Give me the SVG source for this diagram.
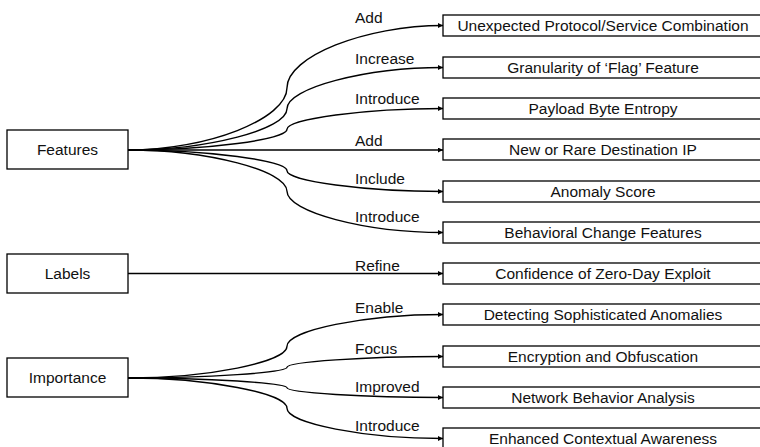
<svg xmlns="http://www.w3.org/2000/svg" width="760" height="447" viewBox="0 0 760 447">
<style>
.box{fill:#fff;stroke:#000;stroke-width:1.3}
.t{font-family:"Liberation Sans",Arial,sans-serif;font-size:15.5px;fill:#111}
.c{text-anchor:middle}
.ln{fill:none;stroke:#000;stroke-width:1.4}
</style>
<defs>
<marker id="ah" markerUnits="userSpaceOnUse" markerWidth="6" markerHeight="6" refX="5" refY="2.5" orient="auto">
<path d="M0,0 L5,2.5 L0,5 Z" fill="#000"/>
</marker>
</defs>
<rect width="760" height="447" fill="#fff"/>
<g id="connectors">
<path class="ln" marker-end="url(#ah)" d="M128,150 C207.5,150 287,118.9 287,87.8 C287,56.6 365,25.5 443,25.5"/>
<path class="ln" marker-end="url(#ah)" d="M128,150 C207.5,150 287,129.4 287,108.8 C287,88.1 365,67.5 443,67.5"/>
<path class="ln" marker-end="url(#ah)" d="M128,150 C207.5,150 287,139.6 287,129.3 C287,118.9 365,108.5 443,108.5"/>
<path class="ln" marker-end="url(#ah)" d="M128,150 L443,150"/>
<path class="ln" marker-end="url(#ah)" d="M128,150 C207.5,150 287,160.4 287,170.8 C287,181.1 365,191.5 443,191.5"/>
<path class="ln" marker-end="url(#ah)" d="M128,150 C207.5,150 287,170.6 287,191.3 C287,211.9 365,232.5 443,232.5"/>
<path class="ln" marker-end="url(#ah)" d="M128,273.5 L443,273.5"/>
<path class="ln" marker-end="url(#ah)" d="M128,378 C207.5,378 287,362.1 287,346.3 C287,330.4 365,314.5 443,314.5"/>
<path class="ln" marker-end="url(#ah)" d="M128,378 C207.5,378 287,372.6 287,367.3 C287,361.9 365,356.5 443,356.5"/>
<path class="ln" marker-end="url(#ah)" d="M128,378 C207.5,378 287,382.9 287,387.8 C287,392.6 365,397.5 443,397.5"/>
<path class="ln" marker-end="url(#ah)" d="M128,378 C207.5,378 287,393.1 287,408.3 C287,423.4 365,438.5 443,438.5"/>
<text class="t" x="355" y="23">Add</text>
<text class="t" x="355" y="64">Increase</text>
<text class="t" x="355" y="104">Introduce</text>
<text class="t" x="355" y="146">Add</text>
<text class="t" x="355" y="184">Include</text>
<text class="t" x="355" y="222">Introduce</text>
<text class="t" x="355" y="271">Refine</text>
<text class="t" x="355" y="313">Enable</text>
<text class="t" x="355" y="354">Focus</text>
<text class="t" x="355" y="392">Improved</text>
<text class="t" x="355" y="431">Introduce</text>
</g>
<g id="features"><rect class="box" x="7" y="130" width="121" height="39"/><text class="t c" x="67.5" y="155">Features</text></g>
<g id="labels"><rect class="box" x="7" y="254" width="121" height="39"/><text class="t c" x="67.5" y="279">Labels</text></g>
<g id="importance"><rect class="box" x="7" y="358" width="121" height="39"/><text class="t c" x="67.5" y="383">Importance</text></g>
<g id="n1"><rect class="box" x="443" y="15" width="330" height="21"/><text class="t c" x="603" y="31">Unexpected Protocol/Service Combination</text></g>
<g id="n2"><rect class="box" x="443" y="57" width="330" height="21"/><text class="t c" x="603" y="73">Granularity of ‘Flag’ Feature</text></g>
<g id="n3"><rect class="box" x="443" y="98" width="330" height="21"/><text class="t c" x="603" y="114">Payload Byte Entropy</text></g>
<g id="n4"><rect class="box" x="443" y="139" width="330" height="21"/><text class="t c" x="603" y="155">New or Rare Destination IP</text></g>
<g id="n5"><rect class="box" x="443" y="181" width="330" height="21"/><text class="t c" x="603" y="197">Anomaly Score</text></g>
<g id="n6"><rect class="box" x="443" y="222" width="330" height="21"/><text class="t c" x="603" y="238">Behavioral Change Features</text></g>
<g id="n7"><rect class="box" x="443" y="263" width="330" height="21"/><text class="t c" x="603" y="279">Confidence of Zero-Day Exploit</text></g>
<g id="n8"><rect class="box" x="443" y="304" width="330" height="21"/><text class="t c" x="603" y="320">Detecting Sophisticated Anomalies</text></g>
<g id="n9"><rect class="box" x="443" y="346" width="330" height="21"/><text class="t c" x="603" y="362">Encryption and Obfuscation</text></g>
<g id="n10"><rect class="box" x="443" y="387" width="330" height="21"/><text class="t c" x="603" y="403">Network Behavior Analysis</text></g>
<g id="n11"><rect class="box" x="443" y="428" width="330" height="21"/><text class="t c" x="603" y="444">Enhanced Contextual Awareness</text></g>
</svg>
